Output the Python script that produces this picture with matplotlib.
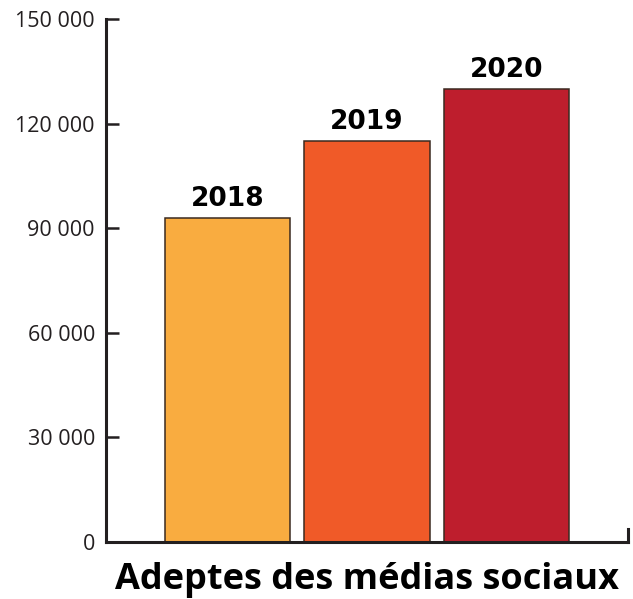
import matplotlib
matplotlib.use("Agg")
import matplotlib.pyplot as plt
from matplotlib.ticker import FuncFormatter

# Data
years = ["2018", "2019", "2020"]
adeptes = [93000, 115000, 130000]
bar_colors = ["#F9AC40", "#F05A28", "#BE1E2D"]
y_ticks = [0, 30000, 60000, 90000, 120000, 150000]
title = "Adeptes des médias sociaux"

INK = "#231F20"

fig = plt.figure(figsize=(6.33, 5.99), dpi=100)
ax = fig.add_axes([106 / 633, 57 / 599, 522 / 633, 523 / 599])

x = range(len(years))
bars = ax.bar(x, adeptes, width=0.9, color=bar_colors,
              edgecolor="#3a2a20", linewidth=1.1, zorder=2)

# year labels above each bar
for xi, v, lab in zip(x, adeptes, years):
    ax.annotate(lab, (xi, v), xytext=(0, 8.5), textcoords="offset points",
                ha="center", va="baseline", fontsize=19,
                fontweight="bold", family="DejaVu Sans", color="black")

ax.set_xlim(-0.87, 2.87)
ax.set_ylim(0, 150000)
ax.set_yticks(y_ticks)
ax.yaxis.set_major_formatter(FuncFormatter(lambda v, p: f"{int(v):,}".replace(",", " ")))
ax.set_xticks([])

for s in ["top", "right"]:
    ax.spines[s].set_visible(False)
for s in ["left", "bottom"]:
    ax.spines[s].set_linewidth(2.2)
    ax.spines[s].set_color(INK)
    ax.spines[s].set_capstyle("projecting")

ax.tick_params(axis="y", direction="in", length=9, width=1.8, color=INK,
               pad=8, labelsize=15.5, labelcolor=INK)
for t in ax.get_yticklabels():
    t.set_family("Open Sans")

# small end tick at the right of the x axis
ax.plot([2.87, 2.87], [0, 3700], color=INK, linewidth=2.2,
        solid_capstyle="projecting", clip_on=False, zorder=3)

fig.text(367 / 633, 10 / 599, title, ha="center", va="baseline",
         fontsize=26, fontweight="bold", family="Open Sans", color="black")

fig.savefig("out.png", dpi=100, facecolor="white")
